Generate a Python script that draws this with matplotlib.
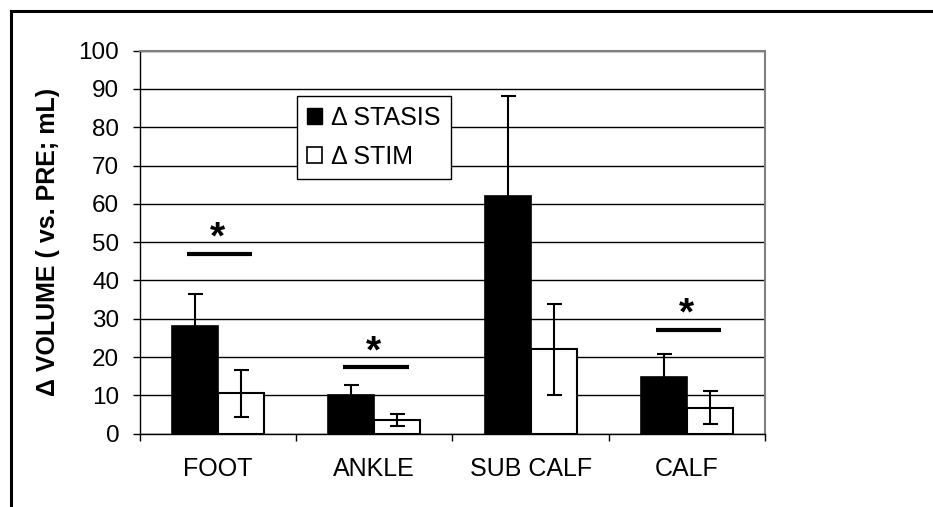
import numpy as np
import matplotlib.pyplot as plt
from matplotlib.patches import Patch
from matplotlib.lines import Line2D

plt.rcParams['font.family'] = ['Liberation Sans', 'DejaVu Sans']

# data
sites = ["FOOT", "ANKLE", "SUB CALF", "CALF"]
stasis_mean = [28.0, 10.2, 62.0, 14.9]
stasis_err = [8.5, 2.4, 26.3, 6.0]
stim_mean = [10.5, 3.6, 22.0, 6.8]
stim_err = [6.1, 1.5, 11.8, 4.3]
sig_level = [47.0, 17.3, None, 27.0]   # height of significance bars

fig = plt.figure(figsize=(9.33, 5.07), dpi=100)
ax = fig.add_axes([0.1497, 0.1446, 0.6705, 0.7554])

centers = np.arange(len(sites)) + 0.5
w = 0.294

ax.bar(centers - w / 2, stasis_mean, w, color='black', edgecolor='black',
       linewidth=1.2, zorder=3)
ax.bar(centers + w / 2, stim_mean, w, color='white', edgecolor='black',
       linewidth=1.5, zorder=3)
ax.errorbar(centers - w / 2, stasis_mean, yerr=stasis_err, fmt='none',
            ecolor='black', elinewidth=1.5, capsize=5.4, capthick=1.5, zorder=4)
ax.errorbar(centers + w / 2, stim_mean, yerr=stim_err, fmt='none',
            ecolor='black', elinewidth=1.5, capsize=5.4, capthick=1.5, zorder=4)

# significance bars with asterisks
for c, h in zip(centers, sig_level):
    if h is None:
        continue
    ax.plot([c - 0.20, c + 0.22], [h, h], color='black', lw=3, zorder=4,
            solid_capstyle='butt')
    ax.text(c - 0.005, h + 4.0, "*", ha='center', va='center', fontsize=28,
            fontweight='bold', zorder=5)

ax.set_xlim(0, 4)
ax.set_ylim(0, 100)
ax.set_yticks(np.arange(0, 101, 10))
ax.yaxis.grid(True, color='black', linewidth=1)
ax.set_axisbelow(True)

ax.set_xticks(np.arange(0, 5))
ax.set_xticklabels([])
ax.set_xticks(centers, minor=True)
ax.set_xticklabels(sites, minor=True)
ax.tick_params(axis='x', which='major', length=5, width=1, direction='out')
ax.tick_params(axis='x', which='minor', length=0, pad=17, labelsize=18)
ax.tick_params(axis='y', length=5.2, width=1, direction='out', pad=9.5,
               labelsize=17.5)

for s in ['top', 'right']:
    ax.spines[s].set_color('#808080')
    ax.spines[s].set_linewidth(1.5)
for s in ['left', 'bottom']:
    ax.spines[s].set_color('black')
    ax.spines[s].set_linewidth(1)

ax.set_ylabel("\u0394 VOLUME ( vs. PRE; mL)", fontsize=18, fontweight='bold')
ax.yaxis.set_label_coords(-0.1275, 0.5)

handles = [Patch(facecolor='black', edgecolor='black'),
           Patch(facecolor='white', edgecolor='black', linewidth=1.2)]
leg = ax.legend(handles, ["\u0394 STASIS", "\u0394 STIM"],
                loc='upper left', bbox_to_anchor=(0.252, 0.8825),
                fontsize=18, frameon=True, fancybox=False, framealpha=1,
                edgecolor='black', handlelength=0.6, handleheight=0.6,
                handletextpad=0.35, labelspacing=0.6, borderpad=0.4,
                borderaxespad=0)
leg.get_frame().set_linewidth(1)
leg.set_zorder(6)

# outer frame
fig.add_artist(Line2D([10.5 / 933, 10.5 / 933], [0, 1 - 10.5 / 507],
                      color='black', lw=2.2))
fig.add_artist(Line2D([10.5 / 933, 1], [1 - 10.5 / 507, 1 - 10.5 / 507],
                      color='black', lw=2.2))

fig.savefig("out.png", dpi=100)
